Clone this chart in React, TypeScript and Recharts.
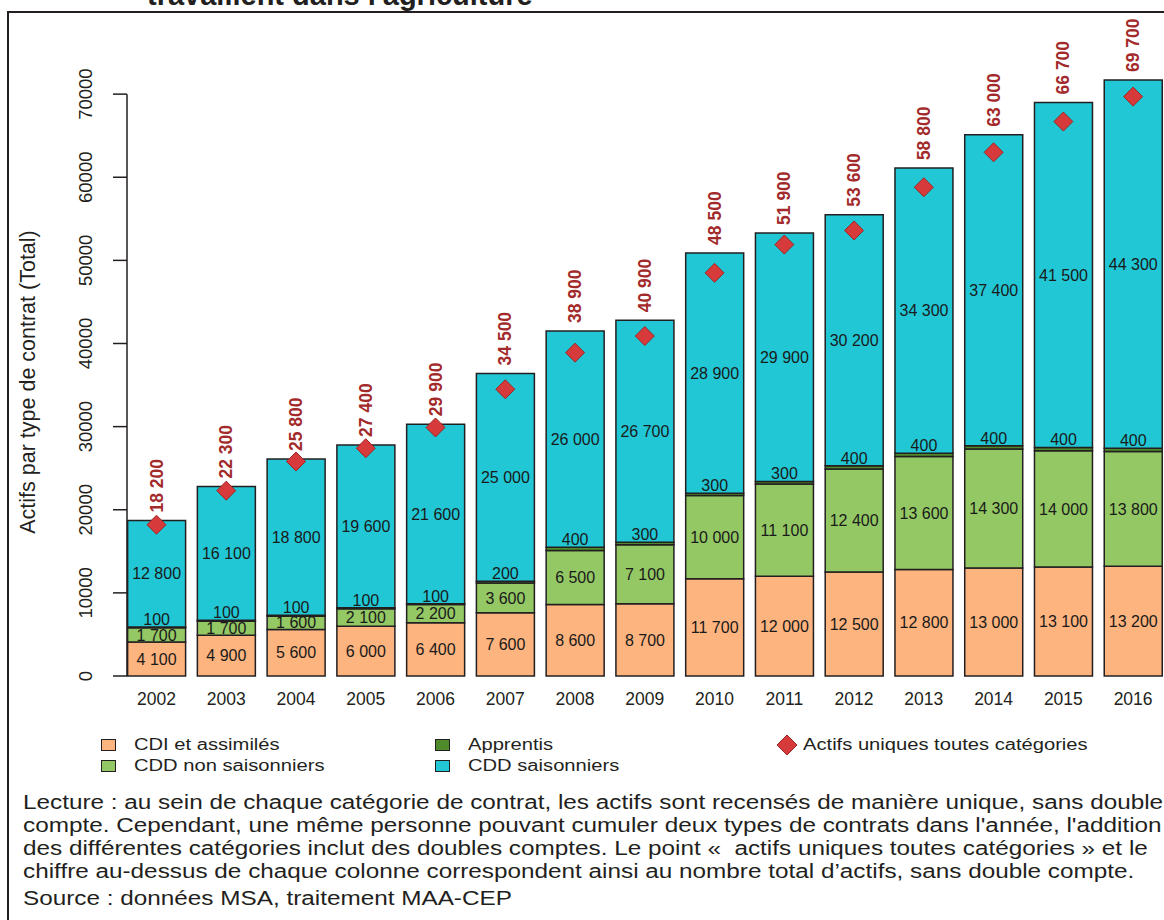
import React from 'react';
import { ComposedChart, Bar, Line, XAxis, YAxis, LabelList } from 'recharts';

const YEARS = ['2002', '2003', '2004', '2005', '2006', '2007', '2008', '2009', '2010', '2011', '2012', '2013', '2014', '2015', '2016'];
const CDI = [4100, 4900, 5600, 6000, 6400, 7600, 8600, 8700, 11700, 12000, 12500, 12800, 13000, 13100, 13200];
const CDD_NON_SAISON = [1700, 1700, 1600, 2100, 2200, 3600, 6500, 7100, 10000, 11100, 12400, 13600, 14300, 14000, 13800];
const APPRENTIS = [100, 100, 100, 100, 100, 200, 400, 300, 300, 300, 400, 400, 400, 400, 400];
const CDD_SAISON = [12800, 16100, 18800, 19600, 21600, 25000, 26000, 26700, 28900, 29900, 30200, 34300, 37400, 41500, 44300];
const ACTIFS_UNIQUES = [18200, 22300, 25800, 27400, 29900, 34500, 38900, 40900, 48500, 51900, 53600, 58800, 63000, 66700, 69700];
const Y_TICKS = [0, 10000, 20000, 30000, 40000, 50000, 60000, 70000];

const LEGEND_ITEMS = [
  { name: 'CDI et assimilés', color: '#fdb47f', shape: 'square', col: 0, row: 0 },
  { name: 'CDD non saisonniers', color: '#93c864', shape: 'square', col: 0, row: 1 },
  { name: 'Apprentis', color: '#4f8a2b', shape: 'square', col: 1, row: 0 },
  { name: 'CDD saisonniers', color: '#21c7d5', shape: 'square', col: 1, row: 1 },
  { name: 'Actifs uniques toutes catégories', color: '#d63a3a', shape: 'diamond', col: 2, row: 0 },
];

const NOTE_LINES = [
  "Lecture : au sein de chaque catégorie de contrat, les actifs sont recensés de manière unique, sans double",
  "compte. Cependant, une même personne pouvant cumuler deux types de contrats dans l'année, l'addition",
  "des différentes catégories inclut des doubles comptes. Le point «\u00a0 actifs uniques toutes catégories » et le",
  "chiffre au-dessus de chaque colonne correspondent ainsi au nombre total d’actifs, sans double compte.",
];
const SOURCE = 'Source : données MSA, traitement MAA-CEP';

const data = YEARS.map((year, i) => ({
  year,
  cdi: CDI[i],
  cddNs: CDD_NON_SAISON[i],
  apprentis: APPRENTIS[i],
  cddS: CDD_SAISON[i],
  actifs: ACTIFS_UNIQUES[i],
}));

const FONT = '"Liberation Sans", Arial, sans-serif';
const INK = '#231f20';
const RED_TEXT = '#a22a2b';

// chart geometry
const CHART_W = 1168;
const CHART_H = 720;
const PLOT_TOP = 11;
const PLOT_LEFT = 121.6;
const X_AXIS_H = 40;
const Y_MAX = 80000;
const PLOT_H = CHART_H - PLOT_TOP - 4 - X_AXIS_H;
const AXIS_X = 127;
const AXIS_SPAN = (PLOT_H * 70000) / Y_MAX;

const fmt = (v: any) => String(v).replace(/\B(?=(\d{3})+(?!\d))/g, ' ');

const renderYTick = (props: any) => {
  const { y, payload } = props;
  return (
    <g>
      <line x1={AXIS_X - 14} x2={AXIS_X} y1={y} y2={y} stroke={INK} strokeWidth={1.5} />
      {payload.value === 0 && (
        <line x1={AXIS_X} x2={AXIS_X} y1={y} y2={y - AXIS_SPAN} stroke={INK} strokeWidth={1.5} />
      )}
      <text
        x={85}
        y={y}
        transform={`rotate(-90 85 ${y})`}
        textAnchor="middle"
        dominantBaseline="central"
        fontSize={18.5}
        fill={INK}
        fontFamily={FONT}
      >
        {payload.value}
      </text>
    </g>
  );
};

const renderXTick = (props: any) => {
  const { x, payload } = props;
  return (
    <text x={x} y={CHART_H - 4 - X_AXIS_H + 29} textAnchor="middle" fontSize={17.5} fill={INK} fontFamily={FONT}>
      {payload.value}
    </text>
  );
};

const renderTotal = (props: any) => {
  const { x, y, width, value } = props;
  const cx = x + width / 2;
  const ty = y - 8;
  return (
    <text
      x={cx}
      y={ty}
      transform={`rotate(-90 ${cx} ${ty})`}
      textAnchor="start"
      dominantBaseline="central"
      fontSize={17.5}
      fontWeight="bold"
      fill={RED_TEXT}
      fontFamily={FONT}
    >
      {fmt(value)}
    </text>
  );
};

const renderDiamond = (props: any) => {
  const { cx, cy, index } = props;
  const r = 9.5;
  return (
    <path
      key={`d-${index}`}
      d={`M${cx},${cy - r} L${cx + r},${cy} L${cx},${cy + r} L${cx - r},${cy} Z`}
      fill="#d63a3a"
      stroke="#9c2626"
      strokeWidth={1}
    />
  );
};

const segLabel = { fontSize: 16, fill: '#1a1a1a', fontFamily: FONT };

export default function App() {
  return (
    <div
      style={{
        position: 'fixed',
        left: 0,
        top: 0,
        width: 1164,
        height: 920,
        overflow: 'hidden',
        background: '#fff',
        fontFamily: FONT,
        color: INK,
      }}
    >
      <div
        style={{
          position: 'absolute',
          left: 7,
          top: 11,
          width: 1200,
          height: 1000,
          border: `2px solid ${INK}`,
          boxSizing: 'border-box',
        }}
      />
      <svg width={1164} height={920} style={{ position: 'absolute', left: 0, top: 0 }}>
        <text x={147} y={5} fontSize={29} fontWeight="bold" fill={INK} fontFamily={FONT}>
          travaillent dans l'agriculture
        </text>
        <text
          x={28}
          y={382}
          transform="rotate(-90 28 382)"
          textAnchor="middle"
          dominantBaseline="central"
          fontSize={21.5}
          fill={INK}
          fontFamily={FONT}
        >
          Actifs par type de contrat (Total)
        </text>
      </svg>

      <div style={{ position: 'absolute', left: 0, top: 0 }}>
        <ComposedChart
          width={CHART_W}
          height={CHART_H}
          data={data}
          margin={{ top: PLOT_TOP, right: 0, bottom: 4, left: 0 }}
        >
          <XAxis dataKey="year" height={X_AXIS_H} axisLine={false} tickLine={false} tick={renderXTick} interval={0} />
          <YAxis
            width={PLOT_LEFT}
            domain={[0, Y_MAX]}
            ticks={Y_TICKS}
            axisLine={false}
            tickLine={false}
            tick={renderYTick}
          />
          <Bar dataKey="cdi" stackId="a" barSize={58} fill="#fdb47f" stroke={INK} strokeWidth={1.5} isAnimationActive={false}>
            <LabelList dataKey="cdi" position="center" formatter={fmt} style={segLabel} />
          </Bar>
          <Bar dataKey="cddNs" stackId="a" barSize={58} fill="#93c864" stroke={INK} strokeWidth={1.5} isAnimationActive={false}>
            <LabelList dataKey="cddNs" position="center" formatter={fmt} style={segLabel} />
          </Bar>
          <Bar dataKey="apprentis" stackId="a" barSize={58} fill="#4f8a2b" stroke={INK} strokeWidth={1.5} isAnimationActive={false}>
            <LabelList dataKey="apprentis" position="top" offset={2} formatter={fmt} style={segLabel} />
          </Bar>
          <Bar dataKey="cddS" stackId="a" barSize={58} fill="#21c7d5" stroke={INK} strokeWidth={1.5} isAnimationActive={false}>
            <LabelList dataKey="cddS" position="center" formatter={fmt} style={segLabel} />
            <LabelList dataKey="actifs" content={renderTotal} />
          </Bar>
          <Line
            dataKey="actifs"
            stroke="none"
            dot={renderDiamond}
            activeDot={false}
            legendType="none"
            isAnimationActive={false}
          />
        </ComposedChart>
      </div>

      {LEGEND_ITEMS.map((item) => {
        const colX = [101, 435, 776][item.col];
        const cy = 745 + item.row * 21;
        return (
          <div key={item.name} style={{ position: 'absolute', left: colX, top: cy - 10, height: 20, display: 'flex', alignItems: 'center' }}>
            {item.shape === 'square' ? (
              <span
                style={{
                  display: 'inline-block',
                  width: 13,
                  height: 10,
                  background: item.color,
                  border: `1.5px solid ${INK}`,
                  marginRight: 18,
                }}
              />
            ) : (
              <svg width={22} height={22} style={{ marginRight: 5 }}>
                <path d="M11,1 L21,11 L11,21 L1,11 Z" fill={item.color} stroke="#9c2626" strokeWidth={1} />
              </svg>
            )}
            <span
              style={{
                fontSize: 16,
                whiteSpace: 'nowrap',
                display: 'inline-block',
                transform: 'scaleX(1.26)',
                transformOrigin: 'left center',
              }}
            >
              {item.name}
            </span>
          </div>
        );
      })}

      <div
        style={{
          position: 'absolute',
          left: 23,
          top: 790.6,
          fontSize: 20,
          lineHeight: '23px',
          whiteSpace: 'pre',
          transform: 'scaleX(1.215)',
          transformOrigin: 'left top',
        }}
      >
        {NOTE_LINES.map((l) => (
          <div key={l}>{l}</div>
        ))}
      </div>
      <div
        style={{
          position: 'absolute',
          left: 23,
          top: 886.6,
          fontSize: 20,
          lineHeight: '23px',
          whiteSpace: 'pre',
          transform: 'scaleX(1.215)',
          transformOrigin: 'left top',
        }}
      >
        {SOURCE}
      </div>
    </div>
  );
}
